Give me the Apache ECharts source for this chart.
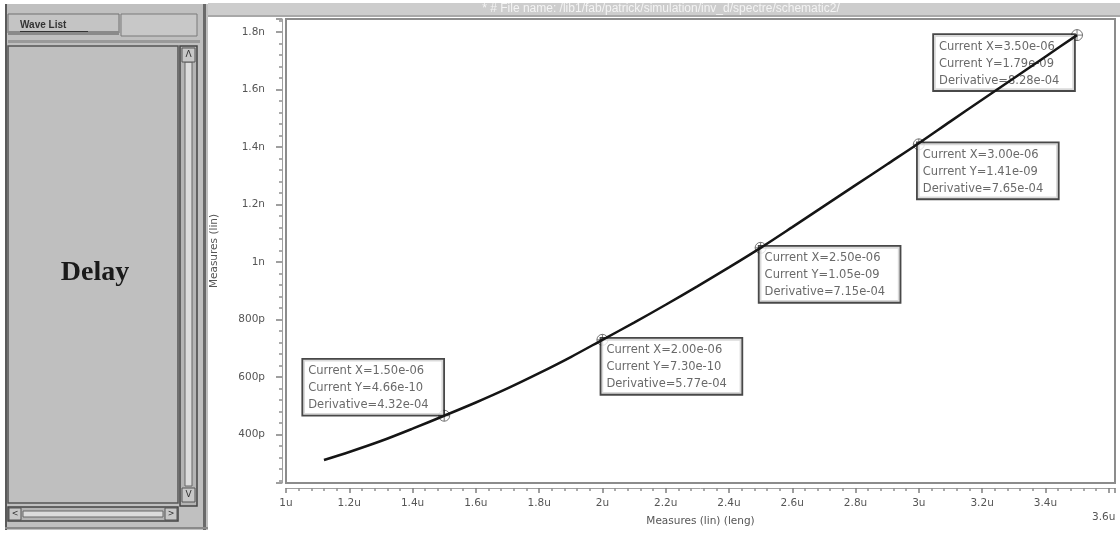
<!DOCTYPE html>
<html>
<head>
<meta charset="utf-8">
<style>
  html, body { margin: 0; padding: 0; background: #ffffff; }
  #chart { width: 1120px; height: 534px; }
</style>
<script src="https://cdn.jsdelivr.net/npm/echarts@6/dist/echarts.min.js"></script>
</head>
<body>
<div id="chart"></div>
<script>
// ---- data (x in u = 1e-6, y in n = 1e-9) ----
const curveX = [1.12, 1.2, 1.3, 1.4, 1.5, 1.6, 1.7, 1.8, 1.9, 2.0, 2.1, 2.2, 2.3, 2.4, 2.5, 2.6, 2.7, 2.8, 2.9, 3.0, 3.1, 3.2, 3.3, 3.4, 3.5];
const curveY = [0.312, 0.340, 0.378, 0.421, 0.466, 0.512, 0.561, 0.614, 0.670, 0.730, 0.790, 0.852, 0.916, 0.982, 1.050, 1.122, 1.195, 1.268, 1.341, 1.414, 1.490, 1.565, 1.640, 1.715, 1.790];

const markX = [1.5, 2.0, 2.5, 3.0, 3.5];
const markY = [0.466, 0.730, 1.050, 1.410, 1.790];
const markLabelX = ['1.50e-06', '2.00e-06', '2.50e-06', '3.00e-06', '3.50e-06'];
const markLabelY = ['4.66e-10', '7.30e-10', '1.05e-09', '1.41e-09', '1.79e-09'];
const markDeriv  = ['4.32e-04', '5.77e-04', '7.15e-04', '7.65e-04', '8.28e-04'];

const xTickUnit = 'u';
const yAxisName = 'Measures (lin)';
const xAxisName = 'Measures (lin) (leng)';
const panelTitle = 'Delay';
const tabTitle = 'Wave List';
const windowTitle = '* # File name: /lib1/fab/patrick/simulation/inv_d/spectre/schematic2/';

// ---- chart ----
const chart = echarts.init(document.getElementById('chart'), null, { renderer: 'canvas' });

const linePts = curveX.map((x, i) => [x, curveY[i]]);

const BOX_W = 128;          // content width of annotation boxes
const BOX_PAD = [3, 7, 1, 5];
const BOX_OUTER = BOX_W + BOX_PAD[1] + BOX_PAD[3];

// label placement per annotated point: [position, verticalAlign]
const placement = [
  [[5 - BOX_OUTER, 5], 'bottom'],
  [[5, 5], 'top'],
  [[5, 5], 'top'],
  [[5, 5], 'top'],
  [[3 - BOX_OUTER, 6], 'top']
];

const markPts = markX.map((x, i) => ({
  value: [x, markY[i]],
  label: {
    show: true,
    position: placement[i][0],
    align: 'left',
    verticalAlign: placement[i][1],
    formatter: 'Current X=' + markLabelX[i] + '\nCurrent Y=' + markLabelY[i] + '\nDerivative=' + markDeriv[i]
  }
}));

function fmtX(v) {
  const r = Math.round(v * 10) / 10;
  if (Math.abs(v - r) > 0.001) return '';
  return String(r) + xTickUnit;
}
function fmtY(v) {
  const r = Math.round(v * 100) / 100;
  if (r >= 1) return String(Math.round(r * 10) / 10) + 'n';
  return String(Math.round(r * 1000)) + 'p';
}

const axisFont = { fontFamily: 'DejaVu Sans', fontSize: 10.5, color: '#555' };

const graphics = [
  // window title bar
  { type: 'rect', shape: { x: 208, y: 3, width: 912, height: 13 }, style: { fill: '#cdcdcd' }, z: 10 },
  { type: 'rect', shape: { x: 208, y: 15, width: 912, height: 2 }, style: { fill: '#a8a8a8' }, z: 10 },
  { type: 'text', x: 661, y: 9, style: { text: windowTitle, fill: '#f4f4f4', font: '12px Liberation Sans', align: 'center', verticalAlign: 'middle' }, z: 11 },
  // left panel
  { type: 'rect', shape: { x: 5, y: 4, width: 203, height: 526 }, style: { fill: '#c0c0c0' }, z: 10 },
  { type: 'rect', shape: { x: 5, y: 4, width: 2, height: 526 }, style: { fill: '#5a5a5a' }, z: 11 },
  { type: 'rect', shape: { x: 203, y: 4, width: 3, height: 526 }, style: { fill: '#6a6a6a' }, z: 11 },
  { type: 'rect', shape: { x: 5, y: 527, width: 203, height: 2 }, style: { fill: '#8a8a8a' }, z: 11 },
  // tab
  { type: 'rect', shape: { x: 8, y: 14, width: 111, height: 19 }, style: { fill: '#c4c4c4', stroke: '#707070', lineWidth: 1 }, z: 11 },
  { type: 'rect', shape: { x: 8, y: 31, width: 111, height: 4 }, style: { fill: '#8a8a8a' }, z: 11 },
  { type: 'text', x: 20, y: 25, style: { text: tabTitle, fill: '#333', font: 'bold 10px Liberation Sans', verticalAlign: 'middle' }, z: 12 },
  { type: 'rect', shape: { x: 20, y: 31, width: 68, height: 1 }, style: { fill: '#333' }, z: 12 },
  { type: 'rect', shape: { x: 121, y: 14, width: 76, height: 22 }, style: { fill: '#c8c8c8', stroke: '#7a7a7a', lineWidth: 1 }, z: 11 },
  { type: 'rect', shape: { x: 8, y: 40, width: 192, height: 3 }, style: { fill: '#9a9a9a' }, z: 11 },
  // list area
  { type: 'rect', shape: { x: 8, y: 46, width: 170, height: 457 }, style: { fill: '#bfbfbf', stroke: '#555', lineWidth: 1.5 }, z: 11 },
  { type: 'text', x: 95, y: 273, style: { text: panelTitle, fill: '#1a1a1a', font: 'bold 28px Liberation Serif', align: 'center', verticalAlign: 'middle' }, z: 12 },
  // vertical scrollbar
  { type: 'rect', shape: { x: 180, y: 46, width: 17, height: 460 }, style: { fill: '#b4b4b4', stroke: '#444', lineWidth: 1.5 }, z: 11 },
  { type: 'rect', shape: { x: 185, y: 62, width: 7, height: 424 }, style: { fill: '#dcdcdc', stroke: '#666', lineWidth: 1 }, z: 12 },
  { type: 'rect', shape: { x: 182, y: 48, width: 13, height: 14 }, style: { fill: '#c8c8c8', stroke: '#555', lineWidth: 1 }, z: 12 },
  { type: 'text', x: 188.5, y: 55, style: { text: 'Λ', fill: '#333', font: '9px DejaVu Sans', align: 'center', verticalAlign: 'middle' }, z: 13 },
  { type: 'rect', shape: { x: 182, y: 488, width: 13, height: 14 }, style: { fill: '#c8c8c8', stroke: '#555', lineWidth: 1 }, z: 12 },
  { type: 'text', x: 188.5, y: 495, style: { text: 'V', fill: '#333', font: '9px DejaVu Sans', align: 'center', verticalAlign: 'middle' }, z: 13 },
  // horizontal scrollbar
  { type: 'rect', shape: { x: 8, y: 507, width: 170, height: 14 }, style: { fill: '#b4b4b4', stroke: '#444', lineWidth: 1.5 }, z: 11 },
  { type: 'rect', shape: { x: 23, y: 511, width: 140, height: 6 }, style: { fill: '#dcdcdc', stroke: '#666', lineWidth: 1 }, z: 12 },
  { type: 'rect', shape: { x: 9, y: 508, width: 12, height: 12 }, style: { fill: '#c8c8c8', stroke: '#555', lineWidth: 1 }, z: 12 },
  { type: 'text', x: 15, y: 514, style: { text: '<', fill: '#333', font: '8px DejaVu Sans', align: 'center', verticalAlign: 'middle' }, z: 13 },
  { type: 'rect', shape: { x: 165, y: 508, width: 12, height: 12 }, style: { fill: '#c8c8c8', stroke: '#555', lineWidth: 1 }, z: 12 },
  { type: 'text', x: 171, y: 514, style: { text: '>', fill: '#333', font: '8px DejaVu Sans', align: 'center', verticalAlign: 'middle' }, z: 13 }
];

const option = {
  backgroundColor: '#ffffff',
  animation: false,
  graphic: graphics,
  grid: {
    left: 286, top: 19, right: 5, bottom: 51,
    outerBoundsMode: 'none',
    containLabel: false,
    show: true, backgroundColor: '#ffffff', borderColor: '#8c8c8c', borderWidth: 2
  },
  xAxis: {
    type: 'value',
    min: 1.0, max: 3.62, interval: 0.2,
    offset: 5,
    name: xAxisName, nameLocation: 'middle', nameGap: 28, nameMoveOverlap: false,
    nameTextStyle: { fontFamily: 'DejaVu Sans', fontSize: 10.5, color: '#555' },
    axisLine: { show: true, lineStyle: { color: '#a0a0a0', width: 1 } },
    axisTick: { show: true, length: 5, lineStyle: { color: '#808080', width: 1.5 } },
    minorTick: { show: true, splitNumber: 5, length: 3, lineStyle: { color: '#909090', width: 1.5 } },
    splitLine: { show: false },
    axisLabel: {
      ...axisFont, margin: 10, showMaxLabel: false,
      formatter: function (v) {
        const s = fmtX(v);
        if (Math.abs(v - 3.6) < 0.001) return '{low|' + s + '}';
        return s;
      },
      rich: { low: { fontFamily: 'DejaVu Sans', fontSize: 10.5, color: '#555', padding: [14, 10, 0, 0] } }
    }
  },
  yAxis: {
    type: 'value',
    min: 0.232, max: 1.846, splitNumber: 8,
    offset: 4,
    name: yAxisName, nameLocation: 'middle', nameGap: 62, nameRotate: 90, nameMoveOverlap: false,
    nameTextStyle: { fontFamily: 'DejaVu Sans', fontSize: 10.5, color: '#555' },
    axisLine: { show: true, lineStyle: { color: '#a0a0a0', width: 1 } },
    axisTick: { show: true, length: 6, lineStyle: { color: '#808080', width: 1.5 } },
    minorTick: { show: true, splitNumber: 5, length: 3, lineStyle: { color: '#909090', width: 1.5 } },
    splitLine: { show: false },
    axisLabel: { ...axisFont, margin: 17, showMinLabel: false, showMaxLabel: false, formatter: fmtY }
  },
  series: [
    {
      type: 'scatter',
      data: markPts,
      symbol: 'path://M10,0A10,10,0,1,1,-10,0A10,10,0,1,1,10,0ZM-10,0L10,0M0,-10L0,10',
      symbolSize: 11,
      itemStyle: { color: 'rgba(255,255,255,0)', borderColor: '#555', borderWidth: 1 },
      label: {
        show: true,
        fontFamily: 'DejaVu Sans', fontSize: 11.5, color: '#444',
        lineHeight: 17,
        width: BOX_W,
        overflow: 'none',
        backgroundColor: '#ffffff',
        borderColor: '#1a1a1a', borderWidth: 1.8,
        padding: BOX_PAD
      },
      z: 3
    },
    {
      type: 'line',
      data: linePts,
      smooth: 0.3,
      showSymbol: false,
      lineStyle: { color: '#151515', width: 2.5 },
      z: 6
    }
  ]
};

chart.setOption(option);
</script>
</body>
</html>
